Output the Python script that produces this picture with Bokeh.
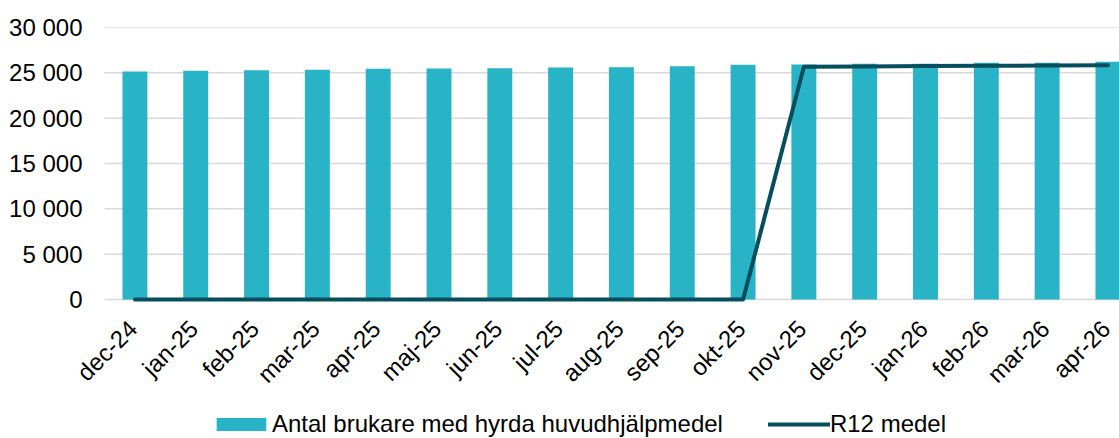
from bokeh.plotting import figure
from bokeh.models import FixedTicker, Legend, LegendItem, Range1d
from bokeh.core.properties import value
from bokeh.embed import file_html
from bokeh.resources import INLINE
import math

months = ["dec-24", "jan-25", "feb-25", "mar-25", "apr-25", "maj-25", "jun-25",
          "jul-25", "aug-25", "sep-25", "okt-25", "nov-25", "dec-25", "jan-26",
          "feb-26", "mar-26", "apr-26"]
users = [25150, 25220, 25290, 25340, 25440, 25480, 25510, 25590, 25620, 25730,
         25890, 25920, 26000, 26000, 26100, 26100, 26210]
r12 = [0, 0, 0, 0, 0, 0, 0, 0, 0, 0, 0,
       25680, 25710, 25740, 25770, 25800, 25830]
y_ticks = [0, 5000, 10000, 15000, 20000, 25000, 30000]

FONT = "Liberation Sans"
BAR = "#29b3c6"
LINE = "#044e5e"
GRID = "#d9d9d9"

xs = list(range(len(months)))
X0, X1 = -0.895, 16.19   # visible x window (first category slot starts at -0.5)

# frame: top at 27 px (30 000), zero line at 299 px, frame runs to bottom edge
p = figure(width=1119, height=438, output_backend="svg", toolbar_location=None,
           title=None, x_axis_location=None,
           x_range=Range1d(X0, X1), y_range=Range1d(-15331, 30000),
           min_border_left=80, min_border_right=0, min_border_top=27,
           min_border_bottom=0)
p.outline_line_color = None
p.background_fill_color = "white"
p.xgrid.grid_line_color = None
p.ygrid.grid_line_color = None

# horizontal gridlines across the category area
p.segment(x0=[-0.5] * len(y_ticks), x1=[X1 + 1] * len(y_ticks), y0=y_ticks, y1=y_ticks,
          line_color=GRID, line_width=1.5)

bars = p.vbar(x=xs, top=users, width=0.41, fill_color=BAR, line_color=None)
line = p.line(xs, r12, line_width=4, line_color=LINE, line_cap="round",
              line_join="round")

# category labels under the zero line (rotated 45 degrees)
p.text(x=xs, y=[0] * len(xs), text=months, angle=math.pi / 4,
       text_align="right", text_baseline="middle", x_offset=-2, y_offset=25,
       text_font=value(FONT), text_font_size="24px", text_color="black")

p.yaxis.ticker = FixedTicker(ticks=y_ticks)
p.yaxis.major_label_overrides = {v: f"{v:,}".replace(",", " ") for v in y_ticks}
p.yaxis.axis_line_color = None
p.yaxis.major_tick_line_color = None
p.yaxis.minor_tick_line_color = None
p.yaxis.major_tick_in = 0
p.yaxis.major_tick_out = 0
p.yaxis.major_label_standoff = -2
p.yaxis.major_label_text_font = FONT
p.yaxis.major_label_text_font_size = "24px"
p.yaxis.major_label_text_color = "black"

legend = Legend(items=[LegendItem(label="Antal brukare med hyrda huvudhjälpmedel", renderers=[bars]),
                       LegendItem(label="R12 medel", renderers=[line])],
                orientation="horizontal", location=(130, 0))
legend.padding = 0
legend.margin = 0
legend.spacing = 45
legend.glyph_width = 62
legend.glyph_height = 16
legend.label_standoff = -1
legend.label_text_font = FONT
legend.label_text_font_size = "24px"
legend.label_text_color = "black"
legend.border_line_color = None
legend.background_fill_alpha = 0
p.add_layout(legend, "center")

open("out.html", "w").write(file_html(p, INLINE))
